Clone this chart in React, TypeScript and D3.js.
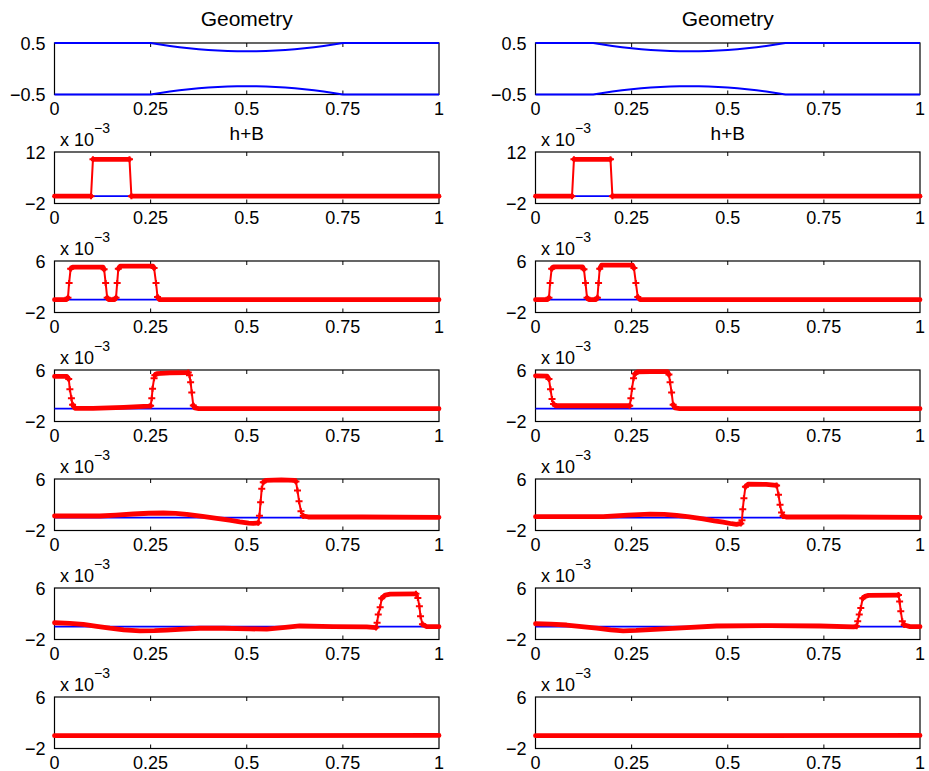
import React from "react";
import * as d3 from "d3";

const W = 929;
const H = 771;
const FONT = "'Liberation Sans', Arial, Helvetica, sans-serif";

// layout of the 7x2 subplot grid
const colX = [54.5, 535.5];
const colW = 384.5;
const rowTop0 = 43;
const rowStep = 109;
const rowH = 51.5;

const xTicks = [0, 0.25, 0.5, 0.75, 1];
const xTickLabels = ["0", "0.25", "0.5", "0.75", "1"];

const geoTicks = [-0.5, 0.5];
const geoTickLabels = ["\u22120.5", "0.5"];
const hbTicks = [-2, 12];
const hbTickLabels = ["\u22122", "12"];
const hTicks = [-2, 6];
const hTickLabels = ["\u22122", "6"];

// channel walls (geometry)
const wallXLeft = [0, 0.25, 0.275, 0.3, 0.325, 0.35, 0.375, 0.4, 0.425, 0.45, 0.475, 0.5, 0.525, 0.55, 0.575, 0.6, 0.625, 0.65, 0.675, 0.7, 0.725, 0.75, 1];
const wallXRight = [0, 0.15, 0.175, 0.2, 0.225, 0.25, 0.275, 0.3, 0.325, 0.35, 0.375, 0.4, 0.425, 0.45, 0.475, 0.5, 0.525, 0.55, 0.575, 0.6, 0.625, 0.65, 1];
const wallTop = [0.5, 0.5, 0.47, 0.442, 0.418, 0.398, 0.38, 0.366, 0.354, 0.346, 0.342, 0.34, 0.342, 0.346, 0.354, 0.366, 0.38, 0.398, 0.418, 0.442, 0.47, 0.5, 0.5];
const wallBottom = [-0.5, -0.5, -0.47, -0.442, -0.418, -0.398, -0.38, -0.366, -0.354, -0.346, -0.342, -0.34, -0.342, -0.346, -0.354, -0.366, -0.38, -0.398, -0.418, -0.442, -0.47, -0.5, -0.5];

// bed B (blue)
const bedX = [0, 1];
const bed = [0, 0];

// h+B snapshots, units of 1e-3, [x, value]
const hL2 = [[0, 0], [0.095, 0], [0.1, 10], [0.195, 10], [0.2, 0], [1, 0]];
const hR2 = [[0, 0], [0.095, 0], [0.1, 10], [0.195, 10], [0.2, 0], [1, 0]];

const hL3 = [[0, 0], [0.031, 0], [0.035, 0.3], [0.038, 2.6], [0.042, 4.8], [0.047, 5.05], [0.126, 5.05], [0.129, 4.7], [0.133, 2.6], [0.137, 0.3], [0.141, 0], [0.156, 0], [0.16, 0.3], [0.163, 2.6], [0.166, 4.8], [0.171, 5.2], [0.256, 5.2], [0.259, 4.9], [0.264, 2.6], [0.268, 0.4], [0.273, 0], [1, 0]];
const hR3 = [[0, 0], [0.031, 0], [0.035, 0.3], [0.038, 2.6], [0.042, 4.8], [0.047, 5.1], [0.122, 5.1], [0.126, 4.7], [0.13, 2.6], [0.134, 0.3], [0.139, 0], [0.157, 0], [0.161, 0.3], [0.164, 2.6], [0.167, 4.8], [0.172, 5.35], [0.252, 5.35], [0.256, 4.9], [0.261, 2.6], [0.266, 0.4], [0.272, 0], [1, 0]];

const hL4 = [[0, 5.0], [0.032, 5.0], [0.037, 4.6], [0.04, 3.0], [0.044, 1.6], [0.047, 0.6], [0.053, 0.05], [0.1, 0.05], [0.18, 0.2], [0.245, 0.4], [0.25, 0.45], [0.253, 1.6], [0.255, 3.1], [0.259, 4.7], [0.261, 5.2], [0.266, 5.45], [0.3, 5.55], [0.348, 5.6], [0.351, 5.2], [0.354, 4.1], [0.357, 2.5], [0.361, 0.5], [0.365, 0.1], [0.375, 0], [1, 0]];
const hR4 = [[0, 5.1], [0.03, 5.05], [0.035, 4.6], [0.039, 3.0], [0.043, 1.5], [0.047, 0.7], [0.052, 0.45], [0.15, 0.45], [0.245, 0.45], [0.248, 1.6], [0.251, 3.1], [0.255, 4.7], [0.259, 5.4], [0.265, 5.7], [0.3, 5.75], [0.343, 5.75], [0.347, 5.3], [0.35, 4.1], [0.354, 2.5], [0.358, 0.6], [0.363, 0.1], [0.375, 0], [1, 0]];

const hL5 = [[0, 0.25], [0.06, 0.25], [0.118, 0.25], [0.16, 0.4], [0.205, 0.56], [0.245, 0.68], [0.283, 0.72], [0.315, 0.65], [0.344, 0.5], [0.385, 0.2], [0.422, -0.1], [0.455, -0.4], [0.482, -0.66], [0.505, -0.85], [0.517, -0.9], [0.53, -0.8], [0.533, 0.3], [0.536, 2.4], [0.539, 4.5], [0.543, 5.5], [0.55, 5.8], [0.59, 5.85], [0.625, 5.8], [0.628, 5.6], [0.632, 4.2], [0.636, 2.55], [0.641, 1.0], [0.647, 0.25], [0.66, 0.1], [0.8, 0.1], [1, 0.05]];
const hR5 = [[0, 0.15], [0.1, 0.15], [0.176, 0.15], [0.24, 0.4], [0.298, 0.55], [0.335, 0.5], [0.367, 0.35], [0.4, 0.1], [0.436, -0.2], [0.465, -0.5], [0.488, -0.7], [0.51, -0.95], [0.523, -1.05], [0.534, -0.9], [0.537, -0.4], [0.539, 1.3], [0.542, 3.0], [0.546, 4.8], [0.553, 5.2], [0.6, 5.15], [0.627, 5.0], [0.632, 3.55], [0.636, 2.0], [0.64, 0.8], [0.644, 0.25], [0.652, 0.1], [0.8, 0.1], [1, 0.05]];

const hL6 = [[0, 0.6], [0.04, 0.5], [0.075, 0.35], [0.11, 0.05], [0.144, -0.25], [0.18, -0.5], [0.222, -0.65], [0.26, -0.62], [0.292, -0.55], [0.335, -0.4], [0.378, -0.25], [0.44, -0.25], [0.508, -0.35], [0.552, -0.4], [0.6, -0.1], [0.638, 0.1], [0.725, 0], [0.812, -0.05], [0.836, -0.15], [0.839, 0.6], [0.842, 1.9], [0.847, 3.0], [0.851, 4.4], [0.86, 4.9], [0.873, 5.05], [0.94, 5.1], [0.945, 4.45], [0.949, 3.15], [0.952, 1.6], [0.957, 0.35], [0.968, 0], [1, 0]];
const hR6 = [[0, 0.45], [0.04, 0.4], [0.081, 0.25], [0.12, 0], [0.159, -0.25], [0.195, -0.5], [0.228, -0.65], [0.262, -0.58], [0.298, -0.45], [0.345, -0.3], [0.393, -0.15], [0.471, 0.1], [0.61, 0.15], [0.74, 0.1], [0.827, -0.05], [0.835, 0.05], [0.838, 0.85], [0.842, 1.9], [0.846, 2.9], [0.851, 4.4], [0.857, 4.7], [0.866, 4.85], [0.944, 4.9], [0.947, 3.9], [0.95, 2.4], [0.954, 0.85], [0.959, 0.25], [0.974, 0], [1, 0]];

const hL7 = [[0, 0], [0.5, 0], [1, 0.03]];
const hR7 = [[0, 0], [0.5, 0], [1, 0.03]];

const leftSeries = [hL2, hL3, hL4, hL5, hL6, hL7];
const rightSeries = [hR2, hR3, hR4, hR5, hR6, hR7];

const BLUE = "#0000ff";
const RED = "#ff0000";

function RedCurve({ pts, x, y }) {
    const px = pts.map(d => [x(d[0]), y(d[1])]);
    const steep = px.slice(1).map((p, i) =>
        Math.abs(p[1] - px[i][1]) > 2 * Math.abs(p[0] - px[i][0]));

    // runs of gentle segments get the thick look of overlapping markers
    const runs = [];
    let run = [];
    for (let i = 0; i < px.length - 1; i++) {
        if (!steep[i]) {
            if (run.length === 0) run.push(px[i]);
            run.push(px[i + 1]);
        } else if (run.length) {
            runs.push(run);
            run = [];
        }
    }
    if (run.length) runs.push(run);

    const line = d3.line();
    const marks = px.filter((p, i) => (i > 0 && steep[i - 1]) || steep[i]);

    return (
        <g>
            <path d={line(px)} fill="none" stroke={RED} strokeWidth={2} strokeLinejoin="round" />
            {runs.map((r, i) => (
                <path key={i} d={line(r)} fill="none" stroke={RED} strokeWidth={4.8}
                    strokeLinejoin="round" strokeLinecap="round" />
            ))}
            {marks.map((p, i) => (
                <path key={"m" + i}
                    d={`M${p[0] - 3.5},${p[1]}H${p[0] + 3.5}M${p[0]},${p[1] - 3}V${p[1] + 3}`}
                    stroke={RED} strokeWidth={2} />
            ))}
        </g>
    );
}

function Panel({ col, row }) {
    const left = colX[col];
    const top = rowTop0 + row * rowStep;
    const bottom = top + rowH;
    const isGeo = row === 0;
    const yTicks = isGeo ? geoTicks : row === 1 ? hbTicks : hTicks;
    const yLabels = isGeo ? geoTickLabels : row === 1 ? hbTickLabels : hTickLabels;

    const x = d3.scaleLinear().domain([0, 1]).range([left, left + colW]);
    const y = d3.scaleLinear().domain([yTicks[0], yTicks[1]]).range([bottom, top]);
    const line = d3.line().x(d => x(d[0])).y(d => y(d[1]));

    const cx = left + colW / 2;

    return (
        <g>
            <rect x={left} y={top} width={colW} height={rowH} fill="none" stroke="#000" strokeWidth={1.2} />
            {xTicks.slice(1, -1).map(t => (
                <g key={t}>
                    <line x1={x(t)} x2={x(t)} y1={top} y2={top + 4} stroke="#000" strokeWidth={1} />
                    <line x1={x(t)} x2={x(t)} y1={bottom} y2={bottom - 4} stroke="#000" strokeWidth={1} />
                </g>
            ))}
            {xTicks.map((t, i) => (
                <text key={t} x={x(t)} y={bottom + 20} fontSize={18} textAnchor="middle">{xTickLabels[i]}</text>
            ))}
            {yTicks.map((t, i) => (
                <text key={t} x={left - 9} y={y(t) + 6.5} fontSize={18} textAnchor="end">{yLabels[i]}</text>
            ))}

            {isGeo ? (
                <g>
                    <path d={line(wallXLeft.map((v, i) => [col === 0 ? v : wallXRight[i], wallTop[i]]))}
                        fill="none" stroke={BLUE} strokeWidth={2} />
                    <path d={line(wallXLeft.map((v, i) => [col === 0 ? v : wallXRight[i], wallBottom[i]]))}
                        fill="none" stroke={BLUE} strokeWidth={2} />
                    <text x={cx} y={26} fontSize={21} textAnchor="middle">Geometry</text>
                </g>
            ) : (
                <g>
                    <path d={line(bedX.map((v, i) => [v, bed[i]]))} fill="none" stroke={BLUE} strokeWidth={1.6} />
                    <RedCurve pts={(col === 0 ? leftSeries : rightSeries)[row - 1]} x={x} y={y} />
                    <text x={left + 5.5} y={top - 6} fontSize={18}>
                        x 10<tspan dy={-13} fontSize={14}>{"\u22123"}</tspan>
                    </text>
                    {row === 1 && (
                        <text x={cx} y={140} fontSize={19} textAnchor="middle">h+B</text>
                    )}
                </g>
            )}
        </g>
    );
}

export default function App() {
    const rows = [0, 1, 2, 3, 4, 5, 6];
    return (
        <svg width={W} height={H} viewBox={`0 0 ${W} ${H}`}
            style={{ position: "absolute", left: 0, top: 0, background: "#fff" }}
            fontFamily={FONT}>
            <rect width={W} height={H} fill="#fff" />
            {[0, 1].map(col => rows.map(row => (
                <Panel key={col + "-" + row} col={col} row={row} />
            )))}
        </svg>
    );
}
